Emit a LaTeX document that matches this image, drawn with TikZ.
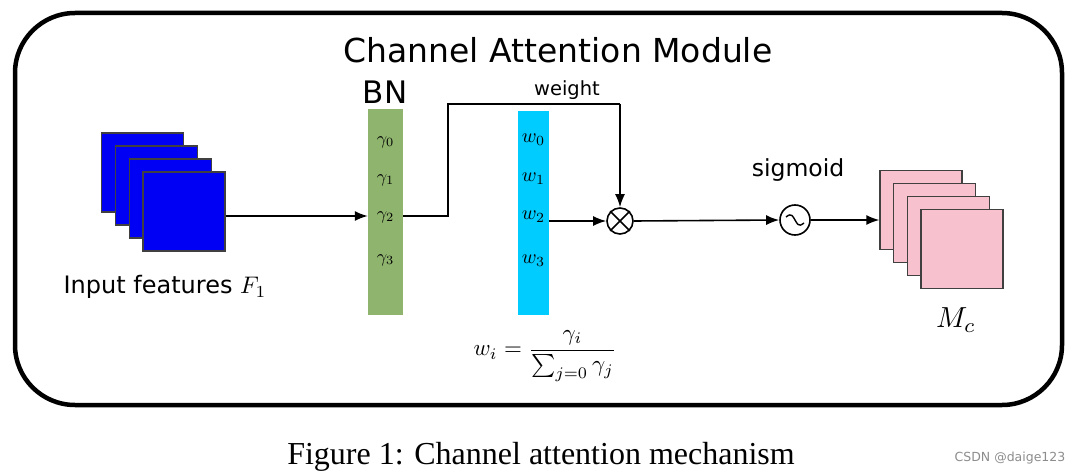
\documentclass[tikz,border=0pt]{standalone}
\usepackage[no-math]{fontspec}
\setmainfont{Liberation Serif}
\newfontfamily\djfont{DejaVu Sans}
\usetikzlibrary{arrows.meta}
\newcommand{\setfs}[1]{\fontsize{#1}{#1}\selectfont}
\newcommand{\bigmath}[2]{{\fontsize{10}{12}\selectfont\scalebox{#1}{$#2$}}}
\definecolor{bngreen}{RGB}{143,180,110}
\definecolor{wcyan}{RGB}{0,204,255}
\definecolor{inblue}{RGB}{0,0,245}
\definecolor{mcpink}{RGB}{247,194,206}
\begin{document}
\begin{tikzpicture}[x=1pt,y=-1pt,
  arr/.style={line width=1.6pt,-{Latex[length=13pt,width=10pt]}},
  conn/.style={line width=1.6pt},
  sq/.style={draw=black!75,line width=1.3pt,minimum width=82pt,minimum height=79pt,inner sep=0pt},
  bar/.style={inner sep=0pt},
  lab/.style={inner sep=0pt},
  opcirc/.style={draw,circle,line width=1.6pt,inner sep=0pt}]
\useasboundingbox (0,0) rectangle (1078,476);
% outer frame
\draw[line width=4.5pt,rounded corners=60pt] (15,13) rectangle (1062,405);
\node[lab,font=\djfont\setfs{33}] (title) at (558,50) {Channel Attention Module};
% input feature maps
\node[sq,fill=inblue] (in1) at (142.5,172.5) {};
\node[sq,fill=inblue] (in2) at (156.3,185.5) {};
\node[sq,fill=inblue] (in3) at (170.2,198.5) {};
\node[sq,fill=inblue] (in4) at (184,211.5) {};
\node[lab,font=\djfont\setfs{24}] (inlab) at (165,287) {Input features \bigmath{2.4}{F_1}};
% BN bar
\node[bar,fill=bngreen,minimum width=35pt,minimum height=206pt] (bn) at (385.5,212) {};
\node[lab,font=\djfont\setfs{31}] (bnlab) at (385,92) {BN};
\node[lab] (g0) at (385.5,142) {\bigmath{1.8}{\gamma_0}};
\node[lab] (g1) at (385.5,180) {\bigmath{1.8}{\gamma_1}};
\node[lab] (g2) at (385.5,217) {\bigmath{1.8}{\gamma_2}};
\node[lab] (g3) at (385.5,260) {\bigmath{1.8}{\gamma_3}};
% weight bar
\node[bar,fill=wcyan,minimum width=31pt,minimum height=204pt] (wb) at (533.5,213) {};
\node[lab] (w0) at (533.5,140) {\bigmath{2}{w_0}};
\node[lab] (w1) at (533.5,179) {\bigmath{2}{w_1}};
\node[lab] (w2) at (533.5,217) {\bigmath{2}{w_2}};
\node[lab] (w3) at (533.5,261) {\bigmath{2}{w_3}};
\node[lab,font=\djfont\setfs{19.5}] (wlab) at (567,90) {weight};
% formula
\node[lab] (formula) at (545,356) {\bigmath{2.3}{\displaystyle w_i=\frac{\gamma_i}{\textstyle\sum_{j=0}\gamma_j}}};
% operators
\node[opcirc,minimum size=26pt] (mult) at (620,221) {};
\draw[line width=1.6pt] (mult.north east) -- (mult.south west) (mult.north west) -- (mult.south east);
\node[opcirc,minimum size=30pt] (sig) at (795,220) {};
\draw[line width=1.4pt] ([shift={(-9,-3)}]sig.center) .. controls ([shift={(-3,-8)}]sig.center) and ([shift={(-2,-3)}]sig.center) .. (sig.center) .. controls ([shift={(2,3)}]sig.center) and ([shift={(3,8)}]sig.center) .. ([shift={(9,3)}]sig.center);
\node[lab,font=\djfont\setfs{23.5}] (siglab) at (798,170) {sigmoid};
% output maps
\node[sq,fill=mcpink] (pk1) at (921,210) {};
\node[sq,fill=mcpink] (pk2) at (934.7,223) {};
\node[sq,fill=mcpink] (pk3) at (948.3,236) {};
\node[sq,fill=mcpink] (pk4) at (962,249) {};
\node[lab] (mclab) at (956,320) {\bigmath{2.9}{M_c}};
% connectors
\coordinate (t1) at (448,216);
\coordinate (t2) at (448,104);
\coordinate (t3) at (620,104);
\draw[arr] (in4.east |- t1) -- (bn.west |- t1);
\draw[conn] (bn.east |- t1) -- (t1) -- (t2) -- (t3);
\draw[arr] (t3) -- (mult.north);
\draw[arr] (wb.east |- mult) -- (mult.west);
\draw[arr] (mult.east) -- (sig.west);
\draw[arr] (sig.east) -- (pk1.west |- sig);
% caption and watermark
\node[lab,font=\setfs{32}] (caption) at (541,457) {Figure 1: Channel attention mechanism};
\node[lab,font=\djfont\setfs{12.5},text=black!45] (wm) at (1010,458) {CSDN @daige123};
\end{tikzpicture}
\end{document}
